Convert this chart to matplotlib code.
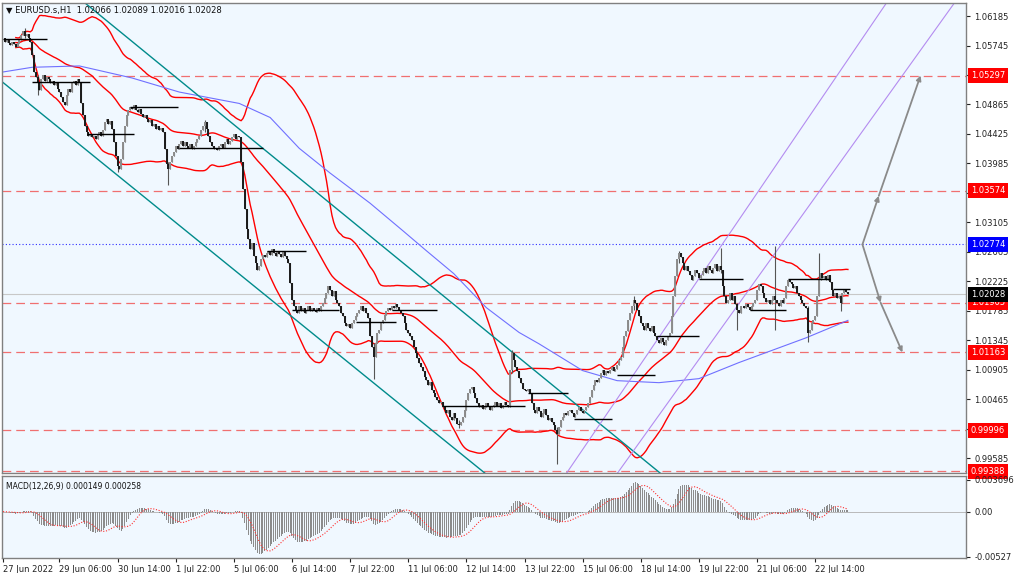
import numpy as np
import pandas as pd
import matplotlib
matplotlib.use("Agg")
import matplotlib.pyplot as plt
from matplotlib.transforms import blended_transform_factory

# hourly closes, EURUSD H1
close = [
    1.0585, 1.0580, 1.0583, 1.0578, 1.0575, 1.0580, 1.0577, 1.0573, 1.0578, 1.0582, 1.0590, 1.0596, 1.0588, 1.0592, 1.0585, 1.0580,
    1.0560, 1.0535, 1.0528,
    1.0520, 1.0508, 1.0525, 1.0530, 1.0522, 1.0527,
    1.0525, 1.0518, 1.0522, 1.0515, 1.0520, 1.0510, 1.0505, 1.0498, 1.0490,
    1.0485, 1.0500, 1.0510, 1.0505, 1.0518, 1.0522, 1.0515, 1.0525, 1.0520,
    1.0488, 1.0470, 1.0455, 1.0445, 1.0440,
    1.0442, 1.0438, 1.0440, 1.0435, 1.0442, 1.0445, 1.0440, 1.0448, 1.0460, 1.0465, 1.0458, 1.0462, 1.0450,
    1.0430, 1.0410, 1.0395, 1.0390,
    1.0405, 1.0430, 1.0455, 1.0470, 1.0478, 1.0483, 1.0480,
    1.0485, 1.0478, 1.0475, 1.0480, 1.0472, 1.0468, 1.0470, 1.0465, 1.0460, 1.0463, 1.0455, 1.0458, 1.0450, 1.0455, 1.0448, 1.0452, 1.0445,
    1.0420, 1.0398, 1.0390, 1.0400,
    1.0410, 1.0415, 1.0425, 1.0420, 1.0428, 1.0432, 1.0425, 1.0430,
    1.0425, 1.0422, 1.0428, 1.0420, 1.0425, 1.0430, 1.0435, 1.0440, 1.0448, 1.0455, 1.0460, 1.0450, 1.0440, 1.0430, 1.0425,
    1.0420, 1.0422, 1.0418, 1.0425, 1.0428, 1.0422, 1.0430, 1.0435, 1.0428, 1.0432, 1.0438, 1.0442, 1.0435, 1.0440, 1.0438,
    1.0400, 1.0360, 1.0330, 1.0300, 1.0285,
    1.0270, 1.0280, 1.0260, 1.0250, 1.0240, 1.0245, 1.0255,
    1.0262, 1.0258, 1.0265, 1.0268, 1.0262, 1.0270, 1.0265, 1.0260, 1.0268, 1.0263, 1.0258, 1.0266, 1.0260, 1.0255, 1.0250,
    1.0220, 1.0195, 1.0185,
    1.0180, 1.0175, 1.0185, 1.0178, 1.0182, 1.0175, 1.0180, 1.0185, 1.0178, 1.0183, 1.0180, 1.0176, 1.0182, 1.0178, 1.0185, 1.0190,
    1.0198, 1.0205, 1.0215, 1.0210, 1.0200, 1.0208, 1.0195, 1.0190, 1.0185,
    1.0175, 1.0170, 1.0160, 1.0155, 1.0158, 1.0152, 1.0160, 1.0165, 1.0170,
    1.0175, 1.0180, 1.0185, 1.0178, 1.0182, 1.0175, 1.0168,
    1.0140, 1.0125, 1.0110, 1.0130, 1.0145,
    1.0150, 1.0160, 1.0165, 1.0172, 1.0178, 1.0183, 1.0180, 1.0186, 1.0182, 1.0188, 1.0184, 1.0180, 1.0175,
    1.0170, 1.0160, 1.0150, 1.0145, 1.0140, 1.0135, 1.0125, 1.0115, 1.0108, 1.0100,
    1.0095, 1.0088, 1.0080, 1.0075, 1.0068, 1.0072, 1.0060, 1.0055, 1.0050, 1.0045, 1.0040,
    1.0042, 1.0035, 1.0030, 1.0025, 1.0030, 1.0020, 1.0015, 1.0025, 1.0018, 1.0010, 1.0008, 1.0012, 1.0020,
    1.0030, 1.0045, 1.0055, 1.0062, 1.0065, 1.0055, 1.0048, 1.0040, 1.0035,
    1.0038, 1.0032, 1.0035, 1.0040, 1.0036, 1.0030, 1.0034, 1.0038, 1.0042, 1.0036, 1.0040, 1.0033, 1.0037, 1.0042, 1.0038, 1.0035,
    1.0090, 1.0115, 1.0105,
    1.0095, 1.0088, 1.0078, 1.0070, 1.0062, 1.0060,
    1.0058, 1.0062, 1.0055,
    1.0040, 1.0030, 1.0025, 1.0035, 1.0028, 1.0020, 1.0025, 1.0032, 1.0022, 1.0015, 1.0018, 1.0012, 1.0008,
    1.0000, 0.9995, 1.0005,
    1.0015, 1.0020, 1.0025, 1.0022, 1.0028, 1.0030, 1.0026, 1.0020, 1.0024, 1.0030, 1.0035, 1.0028, 1.0025, 1.0030, 1.0035, 1.0040,
    1.0050, 1.0060, 1.0068, 1.0075, 1.0072,
    1.0078, 1.0085, 1.0090, 1.0082, 1.0088, 1.0085, 1.0090, 1.0095, 1.0088, 1.0092, 1.0098, 1.0105, 1.0110,
    1.0125, 1.0140, 1.0148,
    1.0165, 1.0175, 1.0185, 1.0195, 1.0190, 1.0180, 1.0170, 1.0160,
    1.0155, 1.0150, 1.0160, 1.0152, 1.0148, 1.0155, 1.0145,
    1.0140, 1.0135, 1.0130, 1.0138, 1.0132, 1.0128, 1.0135, 1.0140, 1.0145,
    1.0170, 1.0200, 1.0230, 1.0255, 1.0265, 1.0258,
    1.0250, 1.0240, 1.0245, 1.0238, 1.0232, 1.0225, 1.0230, 1.0240, 1.0235, 1.0228,
    1.0232, 1.0238, 1.0242, 1.0235, 1.0245, 1.0240, 1.0235, 1.0242, 1.0248, 1.0238, 1.0245,
    1.0240,
    1.0215, 1.0200, 1.0190, 1.0195,
    1.0205, 1.0195, 1.0200, 1.0188, 1.0180, 1.0175, 1.0185,
    1.0185, 1.0182, 1.0188, 1.0184, 1.0180, 1.0186, 1.0190, 1.0195,
    1.0210, 1.0218, 1.0215, 1.0205,
    1.0198, 1.0192, 1.0195, 1.0188, 1.0195, 1.0200,
    1.0195,
    1.0190, 1.0185, 1.0195, 1.0190, 1.0198,
    1.0215, 1.0225, 1.0222,
    1.0218, 1.0212, 1.0215, 1.0205, 1.0200, 1.0195, 1.0190, 1.0185, 1.0182,
    1.0145,
    1.0150, 1.0160, 1.0165, 1.0170,
    1.0200, 1.0225, 1.0235, 1.0228,
    1.0230, 1.0225, 1.0232, 1.0222,
    1.0210, 1.0200, 1.0205, 1.0198, 1.0200, 1.0190,
    1.0205, 1.0210, 1.0206, 1.0203,
]

# bars with long wicks
spike_bars = [12, 19, 63, 91, 111, 204, 251, 280, 305, 347, 372, 395, 404, 425, 443, 449, 461]
spike_high = [1.0601, 1.0530, 1.0400, 1.0400, 1.0463, 1.0130, 1.0015, 1.0120, 1.0005, 1.0200, 1.0268, 1.0272, 1.0190, 1.0275, 1.0185, 1.0265, 1.0200]
spike_low = [1.0585, 1.0500, 1.0385, 1.0366, 1.0445, 1.0077, 1.0004, 1.0085, 0.9950, 1.0180, 1.0250, 1.0235, 1.0150, 1.0150, 1.0132, 1.0200, 1.0178]

# moving average (blue)
ma_bars = [0, 16, 42, 71, 97, 130, 147, 163, 180, 202, 220, 233, 248, 266, 284, 295, 319, 338, 361, 383, 405, 427, 442, 465]
ma_price = [1.0535, 1.0542, 1.0544, 1.0526, 1.0505, 1.0488, 1.0467, 1.0421, 1.0384, 1.0339, 1.0298, 1.0268, 1.0234,
            1.0183, 1.0146, 1.0129, 1.0089, 1.0074, 1.0071, 1.0077, 1.0101, 1.0123, 1.0138, 1.0164]

# daily open segments
seg_start = [0, 16, 70, 46, 97, 145, 159, 194, 214, 242, 289, 314, 338, 360, 383, 411, 432, 457]
seg_end = [24, 48, 96, 72, 143, 167, 185, 216, 239, 287, 311, 335, 359, 383, 407, 431, 455, 466]
seg_price = [1.0584, 1.0520, 1.0482, 1.0443, 1.0421, 1.0267, 1.0180, 1.0162, 1.0180, 1.0036, 1.0056, 1.0017,
             1.0083, 1.0141, 1.0226, 1.0179, 1.0226, 1.0211]

# trend channels (bar, price) end points
teal_upper = ([45.1, 361.6], [1.0638, 0.99361])
teal_lower = ([-1.6, 265.1], [1.05227, 0.99361])
purple_1 = ([310.2, 486.2], [0.99361, 1.0638])
purple_2 = ([338.2, 523.6], [0.99361, 1.0638])

levels_red = [1.05297, 1.03574, 1.01905, 1.01163, 0.99996, 0.99388]
level_blue = 1.02774
last_price = 1.02028

# projection arrows
arrow_up_bars = [473, 482, 505]
arrow_up_prices = [1.02774, 1.0350, 1.05297]
arrow_dn_bars = [473, 483, 495]
arrow_dn_prices = [1.02774, 1.01905, 1.01163]

price_ticks = [1.06185, 1.05745, 1.05305, 1.04865, 1.04425, 1.03985, 1.03545, 1.03105, 1.02665,
               1.02225, 1.01785, 1.01345, 1.00905, 1.00465, 1.00025, 0.99585]
hidden_ticks = [1.05305, 1.03545, 1.00025]  # covered by the level boxes
tick_bars = [0, 31, 63, 95, 127, 159, 191, 223, 255, 287, 319, 351, 383, 415, 447]
tick_labels = ["27 Jun 2022", "29 Jun 06:00", "30 Jun 14:00", "1 Jul 22:00", "5 Jul 06:00", "6 Jul 14:00",
               "7 Jul 22:00", "11 Jul 06:00", "12 Jul 14:00", "13 Jul 22:00", "15 Jul 06:00", "18 Jul 14:00",
               "19 Jul 22:00", "21 Jul 06:00", "22 Jul 14:00"]

# ---- derived series
c = np.array(close)
o = np.r_[c[0], c[:-1]]
h = np.maximum(o, c)
l = np.minimum(o, c)
for b, hi, lo in zip(spike_bars, spike_high, spike_low):
    h[b] = max(h[b], hi)
    l[b] = min(l[b], lo)
idx = np.arange(len(c))
s = pd.Series(c)

# Bollinger bands (50, 2)
bb_mid = s.rolling(50, min_periods=8).mean()
bb_sd = s.rolling(50, min_periods=8).std(ddof=0)
bb_up = bb_mid + 2 * bb_sd
bb_lo = bb_mid - 2 * bb_sd

ema12 = s.ewm(span=12, adjust=False).mean()
ema26 = s.ewm(span=26, adjust=False).mean()
macd = ema12 - ema26
signal = macd.rolling(9, min_periods=1).mean()

# ---- figure
bg = "#f0f8ff"
fig = plt.figure(figsize=(10.23, 5.73), dpi=100, facecolor="white")
ax = fig.add_axes([2 / 1023, 1 - 473 / 573, 964 / 1023, 470 / 573], facecolor=bg)
ax2 = fig.add_axes([2 / 1023, 1 - 558 / 573, 964 / 1023, 82 / 573], facecolor=bg)

xlim = (-0.6, 530)

for lv in levels_red:
    ax.axhline(lv, color="#f07070", lw=0.9, dashes=(7, 4), zorder=1)
ax.axhline(level_blue, color="#3030ff", lw=0.8, ls=(0, (1, 2)), zorder=1)
ax.axhline(last_price, color="#c8c8c8", lw=0.8, zorder=1)

for line in (bb_mid, bb_up, bb_lo):
    ax.plot(idx, line, color="#ff0000", lw=1.0, zorder=2)
ax.plot(ma_bars, ma_price, color="#7070ff", lw=0.8, zorder=2)

ax.plot(*teal_upper, color="#008b8b", lw=1.0, zorder=2)
ax.plot(*teal_lower, color="#008b8b", lw=1.0, zorder=2)
ax.plot(*purple_1, color="#b48cf0", lw=0.8, zorder=2)
ax.plot(*purple_2, color="#b48cf0", lw=0.8, zorder=2)

ax.vlines(idx, l, h, color="#555555", lw=0.8, zorder=3)
up = c >= o
ax.vlines(idx[up], o[up], c[up], color="#8c8c8c", lw=1.4, zorder=3)
ax.vlines(idx[~up], c[~up], o[~up], color="#1a1a1a", lw=1.4, zorder=3)
ax.hlines(seg_price, seg_start, seg_end, color="black", lw=1.0, zorder=4)

for bars, prices in ((arrow_up_bars, arrow_up_prices), (arrow_dn_bars, arrow_dn_prices)):
    for k in range(len(bars) - 1):
        ax.annotate("", xy=(bars[k + 1], prices[k + 1]), xytext=(bars[k], prices[k]),
                    arrowprops=dict(arrowstyle="-|>", color="#8a8a8a", lw=1.3,
                                    mutation_scale=7, shrinkA=0, shrinkB=0), zorder=5)

ax.yaxis.tick_right()
ax.set_yticks(price_ticks)
ax.set_yticklabels(["" if t in hidden_ticks else f"{t:.5f}" for t in price_ticks])
ax.tick_params(axis="y", labelsize=6, length=3, pad=3, colors="#222222")
ax.set_xticks([])
ax.set_xlim(*xlim)
ax.set_ylim(0.99361, 1.06380)

tr = blended_transform_factory(ax.transAxes, ax.transData)
box_items = [(lv, "#ff0000") for lv in levels_red] + [(level_blue, "#0000ff"), (last_price, "#000000")]
for lv, col in box_items:
    ax.text(1.005, lv, f"{lv:.5f}", transform=tr, color="white", fontsize=6, va="center", ha="left",
            bbox=dict(boxstyle="square,pad=0.35", fc=col, ec="none"), clip_on=False, zorder=10)

ax.text(0.004, 0.993, "\u25bc EURUSD.s,H1  1.02066 1.02089 1.02016 1.02028", transform=ax.transAxes,
        va="top", ha="left", fontsize=6, color="#111111")

# MACD panel
ax2.bar(idx, macd, width=0.55, color="#8c8c8c", zorder=2)
ax2.axhline(0, color="#b0b0b0", lw=0.6, zorder=1)
ax2.plot(idx, signal, color="#ff3030", lw=0.8, ls=(0, (1, 1.5)), zorder=3)
ax2.yaxis.tick_right()
ax2.set_yticks([0.003696, 0.0, -0.00527])
ax2.set_yticklabels(["0.003696", "0.00", "-0.00527"])
ax2.tick_params(axis="y", labelsize=6, length=3, pad=3, colors="#222222")
ax2.set_xticks(tick_bars)
ax2.set_xticklabels(tick_labels, ha="left")
ax2.tick_params(axis="x", labelsize=6, length=3, pad=2, colors="#222222")
ax2.set_xlim(*xlim)
ax2.set_ylim(-0.00543, 0.00416)
ax2.text(0.004, 0.93, "MACD(12,26,9) 0.000149 0.000258", transform=ax2.transAxes,
         va="top", ha="left", fontsize=5.5, color="#111111")

for a in (ax, ax2):
    for sp in a.spines.values():
        sp.set_color("#808080")
        sp.set_linewidth(1.0)

fig.savefig("out.png", dpi=100, facecolor="white")
